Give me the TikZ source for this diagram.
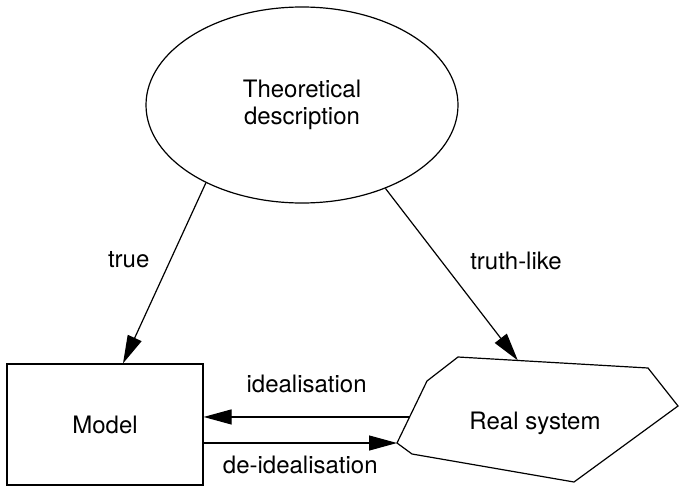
\documentclass[tikz,border=0pt]{standalone}
\usepackage{fontspec}
\setmainfont{TeX Gyre Heros}
\usepackage{tikz}
\usetikzlibrary{positioning,calc,shapes.geometric,arrows.meta}
\newcommand{\diagfont}{\fontsize{12pt}{13.5pt}\selectfont}
\tikzstyle{bubble} = [draw, ellipse, minimum width=156pt, minimum height=98pt, align=center, font=\diagfont]
\tikzstyle{block}  = [draw, rectangle, minimum width=98pt, minimum height=60.5pt, font=\diagfont]
\tikzstyle{arrow}  = [-{Triangle[length=14pt,width=7.5pt]}]
\tikzstyle{lbl}    = [font=\diagfont]

\begin{document}
\begin{tikzpicture}[x=0.5pt, y=-0.5pt, line width=0.6pt]

    \useasboundingbox (0,0) rectangle (679,487);

    \node[bubble] (theory) at (302,105) {Theoretical\\description};
    \node[block ] (model)  at (105,424.5) {Model};

    % real system outline
    \coordinate (p1) at (458,357);
    \coordinate (p2) at (648,368);
    \coordinate (p3) at (678,406);
    \coordinate (p4) at (574,482);
    \coordinate (p5) at (412,454);
    \coordinate (p6) at (397,443);
    \coordinate (p7) at (427,381);
    \draw (p1) -- (p2) -- (p3) -- (p4) -- (p5) -- (p6) -- (p7) -- cycle;
    \node[lbl] (real) at (535,423) {Real system};

    \coordinate (tl) at ($(p1)!0.315!(p2)$);
    \coordinate (ia) at ($(p7)!0.58!(p6)$);

    \draw[arrow] (theory.219.4) -- ([xshift=9pt]model.north) node[lbl, pos=0.425, left=7pt] {true};
    \draw[arrow] (theory.315)   -- (tl) node[lbl, pos=0.42, right=11pt] {truth-like};
    \draw[arrow] (ia) -- (ia -| model.east) node[lbl, midway, above=8.5pt] {idealisation};
    \draw[arrow] (p6 -| model.east) -- (p6) node[lbl, midway, below=2.7pt] {de-idealisation};

\end{tikzpicture}
\end{document}
